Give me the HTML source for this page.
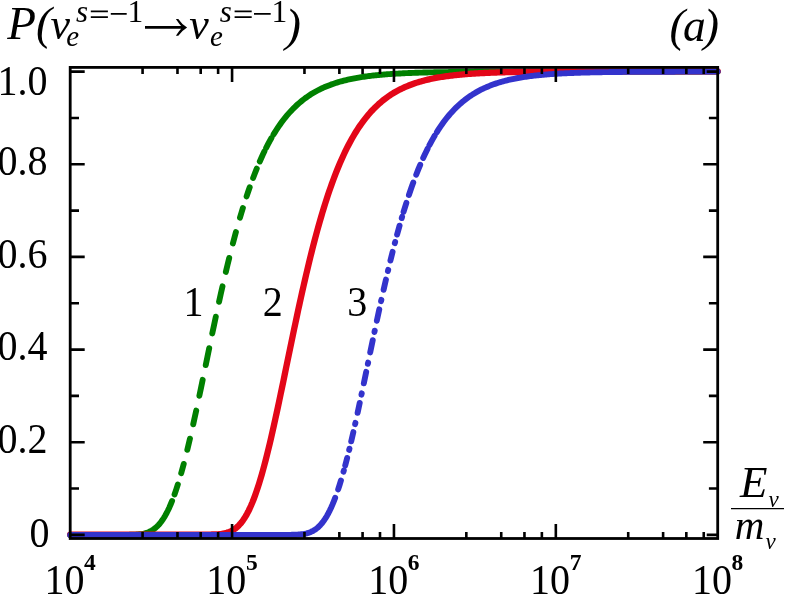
<!DOCTYPE html>
<html><head><meta charset="utf-8"><title>chart</title>
<style>
html,body{margin:0;padding:0;background:#fff;}
body{width:789px;height:594px;overflow:hidden;font-family:"Liberation Serif",serif;}
svg{display:block;position:absolute;left:0;top:0;will-change:transform;}
.txt{filter:grayscale(1);}
text{font-family:"Liberation Serif",serif;fill:#000;}
</style></head><body>
<svg width="789" height="594" viewBox="0 0 789 594">
<rect width="789" height="594" fill="#fff"/>
<path d="M70.20 534.90 L71.56 534.90 L72.92 534.90 L74.28 534.90 L75.63 534.90 L76.99 534.90 L78.35 534.90 L79.71 534.90 L81.07 534.90 L82.43 534.90 L83.78 534.90 L85.14 534.90 L86.50 534.90 L87.86 534.90 L89.22 534.90 L90.58 534.90 L91.93 534.90 L93.29 534.90 L94.65 534.90 L96.01 534.90 L97.37 534.90 L98.73 534.90 L100.09 534.90 L101.44 534.90 L102.80 534.90 L104.16 534.90 L105.52 534.90 L106.88 534.90 L108.24 534.90 L109.59 534.90 L110.95 534.90 L112.31 534.90 L113.67 534.90 L115.03 534.90 L116.39 534.90 L117.75 534.90 L119.10 534.90 L120.46 534.89 L121.82 534.89 L123.18 534.89 L124.54 534.88 L125.90 534.87 L127.25 534.86 L128.61 534.84 L129.97 534.82 L131.33 534.79 L132.69 534.75 L134.05 534.69 L135.40 534.62 L136.76 534.53 L138.12 534.42 L139.48 534.27 L140.84 534.10 L142.20 533.88 L143.56 533.61 L144.91 533.29 L146.27 532.90 L147.63 532.44 L148.99 531.90 L150.35 531.27 L151.71 530.54 L153.06 529.70 L154.42 528.73 L155.78 527.64 L157.14 526.40 L158.50 525.01 L159.86 523.45 L161.22 521.73 L162.57 519.83 L163.93 517.74 L165.29 515.45 L166.65 512.97 L168.01 510.28 L169.37 507.38 L170.72 504.27 L172.08 500.95 M174.52 494.45 L176.19 489.61 L177.86 484.45 M181.19 473.25 L183.73 463.95 M187.30 449.85 L189.96 438.65 M193.23 424.25 L194.72 417.45 L196.22 410.55 M199.36 395.75 L201.02 387.83 L202.67 379.85 M205.73 365.05 L207.48 356.59 L209.22 348.15 M212.28 333.45 L214.05 325.06 L215.81 316.75 M219.06 301.75 L220.78 293.98 L222.50 286.35 M225.83 271.95 L227.52 264.87 L229.21 257.95 M232.88 243.45 L234.40 237.68 L235.92 232.05 M239.98 217.65 L241.44 212.74 L242.90 207.95 M246.60 196.35 L248.15 191.73 L249.71 187.25 M253.10 177.95 L254.92 173.21 L256.75 168.65 M259.79 161.45 L261.33 157.96 L262.88 154.60 L264.43 151.35 M266.16 147.85 L267.92 144.45 L269.67 141.18 L271.43 138.05 M273.48 134.55 L274.83 132.34 L276.18 130.20 L277.53 128.14 L278.88 126.14 L280.23 124.20 L281.58 122.33 L282.93 120.53 L284.28 118.78 L285.63 117.09 L286.98 115.46 L288.33 113.89 L289.68 112.37 L291.03 110.90 L292.38 109.48 L293.73 108.11 L295.08 106.79 L296.43 105.51 L297.78 104.28 L299.13 103.09 L300.48 101.94 L301.83 100.84 L303.18 99.77 L304.53 98.74 L305.88 97.75 L307.23 96.79 L308.58 95.86 L309.93 94.97 L311.28 94.11 L312.63 93.29 L313.98 92.49 L315.33 91.72 L316.68 90.98 L318.04 90.26 L319.39 89.57 L320.74 88.91 L322.09 88.27 L323.44 87.65 L324.79 87.05 L326.14 86.48 L327.49 85.93 L328.84 85.40 L330.19 84.89 L331.54 84.39 L332.89 83.92 L334.24 83.46 L335.59 83.02 L336.94 82.59 L338.29 82.18 L339.64 81.79 L340.99 81.41 L342.34 81.04 L343.69 80.69 L345.04 80.35 L346.39 80.02 L347.74 79.71 L349.09 79.41 L350.44 79.11 L351.79 78.83 L353.14 78.56 L354.49 78.30 L355.84 78.05 L357.19 77.81 L358.54 77.58 L359.89 77.35 L361.24 77.14 L362.59 76.93 L363.94 76.73 L365.29 76.54 L366.64 76.35 L367.99 76.18 L369.34 76.00 L370.69 75.84 L372.04 75.68 L373.39 75.53 L374.74 75.38 L376.09 75.24 L377.44 75.10 L378.79 74.97 L380.15 74.84 L381.50 74.72 L382.85 74.60 L384.20 74.49 L385.55 74.38 L386.90 74.28 L388.25 74.18 L389.60 74.08 L390.95 73.99 L392.30 73.90 L393.65 73.81 L395.00 73.73 L396.35 73.65 L397.70 73.57 L399.05 73.50 L400.40 73.43 L401.75 73.36 L403.10 73.29 L404.45 73.23 L405.80 73.17 L407.15 73.11 L408.50 73.05 L409.85 73.00 L411.20 72.94 L412.55 72.89 L413.90 72.84 L415.25 72.80 L416.60 72.75 L417.95 72.71 L419.30 72.67 L420.65 72.63 L422.00 72.59 L423.35 72.55 L424.70 72.52 L426.05 72.48 L427.40 72.45 L428.75 72.42 L430.10 72.38 L431.45 72.36 L432.80 72.33 L434.15 72.30 L435.50 72.27 L436.85 72.25 L438.20 72.22 L439.55 72.20 L440.91 72.18 L442.26 72.16 L443.61 72.13 L444.96 72.11 L446.31 72.10 L447.66 72.08 L449.01 72.06 L450.36 72.04 L451.71 72.02 L453.06 72.01 L454.41 71.99 L455.76 71.98 L457.11 71.96 L458.46 71.95 L459.81 71.94 L461.16 71.92 L462.51 71.91 L463.86 71.90 L465.21 71.89 L466.56 71.88 L467.91 71.87 L469.26 71.86 L470.61 71.85 L471.96 71.84 L473.31 71.83 L474.66 71.82 L476.01 71.81 L477.36 71.80 L478.71 71.80 L480.06 71.79 L481.41 71.78 L482.76 71.78 L484.11 71.77 L485.46 71.76 L486.81 71.76 L488.16 71.75 L489.51 71.74 L490.86 71.74 L492.21 71.73 L493.56 71.73 L494.91 71.72 L496.26 71.72 L497.61 71.72 L498.96 71.71 L500.31 71.71 L501.66 71.70 L503.02 71.70 L504.37 71.69 L505.72 71.69 L507.07 71.69 L508.42 71.68 L509.77 71.68 L511.12 71.68 L512.47 71.68 L513.82 71.67 L515.17 71.67 L516.52 71.67 L517.87 71.66 L519.22 71.66 L520.57 71.66 L521.92 71.66 L523.27 71.66 L524.62 71.65 L525.97 71.65 L527.32 71.65 L528.67 71.65 L530.02 71.65 L531.37 71.64 L532.72 71.64 L534.07 71.64 L535.42 71.64 L536.77 71.64 L538.12 71.64 L539.47 71.63 L540.82 71.63 L542.17 71.63 L543.52 71.63 L544.87 71.63 L546.22 71.63 L547.57 71.63 L548.92 71.63 L550.27 71.63 L551.62 71.62 L552.97 71.62 L554.32 71.62 L555.67 71.62 L557.02 71.62 L558.37 71.62 L559.72 71.62 L561.07 71.62 L562.42 71.62 L563.78 71.62 L565.13 71.62 L566.48 71.62 L567.83 71.62 L569.18 71.62 L570.53 71.61 L571.88 71.61 L573.23 71.61 L574.58 71.61 L575.93 71.61 L577.28 71.61 L578.63 71.61 L579.98 71.61 L581.33 71.61 L582.68 71.61 L584.03 71.61 L585.38 71.61 L586.73 71.61 L588.08 71.61 L589.43 71.61 L590.78 71.61 L592.13 71.61 L593.48 71.61 L594.83 71.61 L596.18 71.61 L597.53 71.61 L598.88 71.61 L600.23 71.61 L601.58 71.61 L602.93 71.61 L604.28 71.61 L605.63 71.61 L606.98 71.61 L608.33 71.60 L609.68 71.60 L611.03 71.60 L612.38 71.60 L613.73 71.60 L615.08 71.60 L616.43 71.60 L617.78 71.60 L619.13 71.60 L620.48 71.60 L621.83 71.60 L623.18 71.60 L624.53 71.60 L625.89 71.60 L627.24 71.60 L628.59 71.60 L629.94 71.60 L631.29 71.60 L632.64 71.60 L633.99 71.60 L635.34 71.60 L636.69 71.60 L638.04 71.60 L639.39 71.60 L640.74 71.60 L642.09 71.60 L643.44 71.60 L644.79 71.60 L646.14 71.60 L647.49 71.60 L648.84 71.60 L650.19 71.60 L651.54 71.60 L652.89 71.60 L654.24 71.60 L655.59 71.60 L656.94 71.60 L658.29 71.60 L659.64 71.60 L660.99 71.60 L662.34 71.60 L663.69 71.60 L665.04 71.60 L666.39 71.60 L667.74 71.60 L669.09 71.60 L670.44 71.60 L671.79 71.60 L673.14 71.60 L674.49 71.60 L675.84 71.60 L677.19 71.60 L678.54 71.60 L679.89 71.60 L681.24 71.60 L682.59 71.60 L683.94 71.60 L685.29 71.60 L686.64 71.60 L688.00 71.60 L689.35 71.60 L690.70 71.60 L692.05 71.60 L693.40 71.60 L694.75 71.60 L696.10 71.60 L697.45 71.60 L698.80 71.60 L700.15 71.60 L701.50 71.60 L702.85 71.60 L704.20 71.60 L705.55 71.60 L706.90 71.60 L708.25 71.60 L709.60 71.60 L710.95 71.60 L712.30 71.60 L713.65 71.60 L715.00 71.60 L716.35 71.60 L717.70 71.60" fill="none" stroke="#008000" stroke-width="5.90" stroke-linecap="round" stroke-linejoin="round"/>
<path d="M70.20 534.90 L71.55 534.90 L72.90 534.90 L74.25 534.90 L75.60 534.90 L76.94 534.90 L78.29 534.90 L79.64 534.90 L80.99 534.90 L82.34 534.90 L83.69 534.90 L85.04 534.90 L86.39 534.90 L87.74 534.90 L89.09 534.90 L90.43 534.90 L91.78 534.90 L93.13 534.90 L94.48 534.90 L95.83 534.90 L97.18 534.90 L98.53 534.90 L99.88 534.90 L101.23 534.90 L102.58 534.90 L103.92 534.90 L105.27 534.90 L106.62 534.90 L107.97 534.90 L109.32 534.90 L110.67 534.90 L112.02 534.90 L113.37 534.90 L114.72 534.90 L116.06 534.90 L117.41 534.90 L118.76 534.90 L120.11 534.90 L121.46 534.90 L122.81 534.90 L124.16 534.90 L125.51 534.90 L126.86 534.90 L128.21 534.90 L129.55 534.90 L130.90 534.90 L132.25 534.90 L133.60 534.90 L134.95 534.90 L136.30 534.90 L137.65 534.90 L139.00 534.90 L140.35 534.90 L141.69 534.90 L143.04 534.90 L144.39 534.90 L145.74 534.90 L147.09 534.90 L148.44 534.90 L149.79 534.90 L151.14 534.90 L152.49 534.90 L153.84 534.90 L155.18 534.90 L156.53 534.90 L157.88 534.90 L159.23 534.90 L160.58 534.90 L161.93 534.90 L163.28 534.90 L164.63 534.90 L165.98 534.90 L167.32 534.90 L168.67 534.90 L170.02 534.90 L171.37 534.90 L172.72 534.90 L174.07 534.90 L175.42 534.90 L176.77 534.90 L178.12 534.90 L179.47 534.90 L180.81 534.90 L182.16 534.90 L183.51 534.90 L184.86 534.90 L186.21 534.90 L187.56 534.90 L188.91 534.90 L190.26 534.90 L191.61 534.90 L192.96 534.90 L194.30 534.90 L195.65 534.90 L197.00 534.90 L198.35 534.90 L199.70 534.90 L201.05 534.90 L202.40 534.89 L203.75 534.89 L205.10 534.88 L206.44 534.88 L207.79 534.86 L209.14 534.85 L210.49 534.83 L211.84 534.80 L213.19 534.76 L214.54 534.72 L215.89 534.65 L217.24 534.57 L218.59 534.47 L219.93 534.34 L221.28 534.18 L222.63 533.98 L223.98 533.73 L225.33 533.44 L226.68 533.08 L228.03 532.66 L229.38 532.17 L230.73 531.58 L232.07 530.91 L233.42 530.12 L234.77 529.22 L236.12 528.20 L237.47 527.04 L238.82 525.74 L240.17 524.28 L241.52 522.66 L242.87 520.86 L244.22 518.89 L245.56 516.73 L246.91 514.37 L248.26 511.81 L249.61 509.05 L250.96 506.09 L252.31 502.91 L253.66 499.52 L255.01 495.93 L256.36 492.12 L257.71 488.11 L259.05 483.89 L260.40 479.47 L261.75 474.86 L263.10 470.06 L264.45 465.07 L265.80 459.92 L267.15 454.59 L268.50 449.12 L269.85 443.49 L271.19 437.73 L272.54 431.85 L273.89 425.85 L275.24 419.74 L276.59 413.55 L277.94 407.27 L279.29 400.92 L280.64 394.52 L281.99 388.06 L283.34 381.57 L284.68 375.05 L286.03 368.52 L287.38 361.98 L288.73 355.44 L290.08 348.92 L291.43 342.41 L292.78 335.94 L294.13 329.51 L295.48 323.12 L296.83 316.79 L298.17 310.51 L299.52 304.30 L300.87 298.16 L302.22 292.10 L303.57 286.12 L304.92 280.23 L306.27 274.43 L307.62 268.72 L308.97 263.11 L310.31 257.59 L311.66 252.18 L313.01 246.88 L314.36 241.68 L315.71 236.58 L317.06 231.60 L318.41 226.72 L319.76 221.95 L321.11 217.30 L322.46 212.75 L323.80 208.31 L325.15 203.98 L326.50 199.77 L327.85 195.65 L329.20 191.65 L330.55 187.75 L331.90 183.96 L333.25 180.27 L334.60 176.68 L335.94 173.20 L337.29 169.81 L338.64 166.52 L339.99 163.33 L341.34 160.23 L342.69 157.22 L344.04 154.30 L345.39 151.48 L346.74 148.73 L348.09 146.08 L349.43 143.50 L350.78 141.01 L352.13 138.60 L353.48 136.26 L354.83 134.00 L356.18 131.81 L357.53 129.69 L358.88 127.64 L360.23 125.66 L361.57 123.74 L362.92 121.89 L364.27 120.10 L365.62 118.37 L366.97 116.70 L368.32 115.08 L369.67 113.52 L371.02 112.01 L372.37 110.56 L373.72 109.15 L375.06 107.80 L376.41 106.49 L377.76 105.22 L379.11 104.00 L380.46 102.82 L381.81 101.69 L383.16 100.59 L384.51 99.53 L385.86 98.51 L387.21 97.53 L388.55 96.58 L389.90 95.66 L391.25 94.78 L392.60 93.93 L393.95 93.11 L395.30 92.32 L396.65 91.55 L398.00 90.82 L399.35 90.11 L400.69 89.43 L402.04 88.77 L403.39 88.13 L404.74 87.52 L406.09 86.93 L407.44 86.36 L408.79 85.82 L410.14 85.29 L411.49 84.78 L412.84 84.29 L414.18 83.82 L415.53 83.37 L416.88 82.93 L418.23 82.51 L419.58 82.10 L420.93 81.71 L422.28 81.33 L423.63 80.97 L424.98 80.62 L426.33 80.28 L427.67 79.96 L429.02 79.65 L430.37 79.35 L431.72 79.06 L433.07 78.78 L434.42 78.51 L435.77 78.25 L437.12 78.00 L438.47 77.77 L439.81 77.53 L441.16 77.31 L442.51 77.10 L443.86 76.89 L445.21 76.69 L446.56 76.50 L447.91 76.32 L449.26 76.14 L450.61 75.97 L451.96 75.81 L453.30 75.65 L454.65 75.50 L456.00 75.35 L457.35 75.21 L458.70 75.08 L460.05 74.95 L461.40 74.82 L462.75 74.70 L464.10 74.58 L465.44 74.47 L466.79 74.36 L468.14 74.26 L469.49 74.16 L470.84 74.06 L472.19 73.97 L473.54 73.88 L474.89 73.80 L476.24 73.71 L477.59 73.64 L478.93 73.56 L480.28 73.48 L481.63 73.41 L482.98 73.35 L484.33 73.28 L485.68 73.22 L487.03 73.16 L488.38 73.10 L489.73 73.04 L491.07 72.99 L492.42 72.94 L493.77 72.89 L495.12 72.84 L496.47 72.79 L497.82 72.75 L499.17 72.70 L500.52 72.66 L501.87 72.62 L503.22 72.58 L504.56 72.55 L505.91 72.51 L507.26 72.48 L508.61 72.44 L509.96 72.41 L511.31 72.38 L512.66 72.35 L514.01 72.32 L515.36 72.30 L516.71 72.27 L518.05 72.24 L519.40 72.22 L520.75 72.20 L522.10 72.17 L523.45 72.15 L524.80 72.13 L526.15 72.11 L527.50 72.09 L528.85 72.07 L530.19 72.06 L531.54 72.04 L532.89 72.02 L534.24 72.01 L535.59 71.99 L536.94 71.98 L538.29 71.96 L539.64 71.95 L540.99 71.94 L542.34 71.92 L543.68 71.91 L545.03 71.90 L546.38 71.89 L547.73 71.88 L549.08 71.87 L550.43 71.86 L551.78 71.85 L553.13 71.84 L554.48 71.83 L555.83 71.82 L557.17 71.81 L558.52 71.80 L559.87 71.80 L561.22 71.79 L562.57 71.78 L563.92 71.77 L565.27 71.77 L566.62 71.76 L567.97 71.76 L569.31 71.75 L570.66 71.74 L572.01 71.74 L573.36 71.73 L574.71 71.73 L576.06 71.72 L577.41 71.72 L578.76 71.71 L580.11 71.71 L581.46 71.71 L582.80 71.70 L584.15 71.70 L585.50 71.69 L586.85 71.69 L588.20 71.69 L589.55 71.68 L590.90 71.68 L592.25 71.68 L593.60 71.68 L594.94 71.67 L596.29 71.67 L597.64 71.67 L598.99 71.66 L600.34 71.66 L601.69 71.66 L603.04 71.66 L604.39 71.66 L605.74 71.65 L607.09 71.65 L608.43 71.65 L609.78 71.65 L611.13 71.65 L612.48 71.64 L613.83 71.64 L615.18 71.64 L616.53 71.64 L617.88 71.64 L619.23 71.64 L620.58 71.63 L621.92 71.63 L623.27 71.63 L624.62 71.63 L625.97 71.63 L627.32 71.63 L628.67 71.63 L630.02 71.63 L631.37 71.63 L632.72 71.62 L634.06 71.62 L635.41 71.62 L636.76 71.62 L638.11 71.62 L639.46 71.62 L640.81 71.62 L642.16 71.62 L643.51 71.62 L644.86 71.62 L646.21 71.62 L647.55 71.62 L648.90 71.62 L650.25 71.62 L651.60 71.61 L652.95 71.61 L654.30 71.61 L655.65 71.61 L657.00 71.61 L658.35 71.61 L659.69 71.61 L661.04 71.61 L662.39 71.61 L663.74 71.61 L665.09 71.61 L666.44 71.61 L667.79 71.61 L669.14 71.61 L670.49 71.61 L671.84 71.61 L673.18 71.61 L674.53 71.61 L675.88 71.61 L677.23 71.61 L678.58 71.61 L679.93 71.61 L681.28 71.61 L682.63 71.61 L683.98 71.61 L685.33 71.61 L686.67 71.61 L688.02 71.61 L689.37 71.60 L690.72 71.60 L692.07 71.60 L693.42 71.60 L694.77 71.60 L696.12 71.60 L697.47 71.60 L698.81 71.60 L700.16 71.60 L701.51 71.60 L702.86 71.60 L704.21 71.60 L705.56 71.60 L706.91 71.60 L708.26 71.60 L709.61 71.60 L710.96 71.60 L712.30 71.60 L713.65 71.60 L715.00 71.60 L716.35 71.60 L717.70 71.60" fill="none" stroke="#e30618" stroke-width="6.30" stroke-linecap="round" stroke-linejoin="round" transform="translate(0 -0.3)"/>
<path d="M70.20 534.90 L71.55 534.90 L72.90 534.90 L74.26 534.90 L75.61 534.90 L76.96 534.90 L78.31 534.90 L79.66 534.90 L81.01 534.90 L82.37 534.90 L83.72 534.90 L85.07 534.90 L86.42 534.90 L87.77 534.90 L89.13 534.90 L90.48 534.90 L91.83 534.90 L93.18 534.90 L94.53 534.90 L95.88 534.90 L97.24 534.90 L98.59 534.90 L99.94 534.90 L101.29 534.90 L102.64 534.90 L104.00 534.90 L105.35 534.90 L106.70 534.90 L108.05 534.90 L109.40 534.90 L110.75 534.90 L112.11 534.90 L113.46 534.90 L114.81 534.90 L116.16 534.90 L117.51 534.90 L118.86 534.90 L120.22 534.90 L121.57 534.90 L122.92 534.90 L124.27 534.90 L125.62 534.90 L126.98 534.90 L128.33 534.90 L129.68 534.90 L131.03 534.90 L132.38 534.90 L133.73 534.90 L135.09 534.90 L136.44 534.90 L137.79 534.90 L139.14 534.90 L140.49 534.90 L141.85 534.90 L143.20 534.90 L144.55 534.90 L145.90 534.90 L147.25 534.90 L148.60 534.90 L149.96 534.90 L151.31 534.90 L152.66 534.90 L154.01 534.90 L155.36 534.90 L156.72 534.90 L158.07 534.90 L159.42 534.90 L160.77 534.90 L162.12 534.90 L163.47 534.90 L164.83 534.90 L166.18 534.90 L167.53 534.90 L168.88 534.90 L170.23 534.90 L171.59 534.90 L172.94 534.90 L174.29 534.90 L175.64 534.90 L176.99 534.90 L178.34 534.90 L179.70 534.90 L181.05 534.90 L182.40 534.90 L183.75 534.90 L185.10 534.90 L186.45 534.90 L187.81 534.90 L189.16 534.90 L190.51 534.90 L191.86 534.90 L193.21 534.90 L194.57 534.90 L195.92 534.90 L197.27 534.90 L198.62 534.90 L199.97 534.90 L201.32 534.90 L202.68 534.90 L204.03 534.90 L205.38 534.90 L206.73 534.90 L208.08 534.90 L209.44 534.90 L210.79 534.90 L212.14 534.90 L213.49 534.90 L214.84 534.90 L216.19 534.90 L217.55 534.90 L218.90 534.90 L220.25 534.90 L221.60 534.90 L222.95 534.90 L224.31 534.90 L225.66 534.90 L227.01 534.90 L228.36 534.90 L229.71 534.90 L231.06 534.90 L232.42 534.90 L233.77 534.90 L235.12 534.90 L236.47 534.90 L237.82 534.90 L239.18 534.90 L240.53 534.90 L241.88 534.90 L243.23 534.90 L244.58 534.90 L245.93 534.90 L247.29 534.90 L248.64 534.90 L249.99 534.90 L251.34 534.90 L252.69 534.90 L254.04 534.90 L255.40 534.90 L256.75 534.90 L258.10 534.90 L259.45 534.90 L260.80 534.90 L262.16 534.90 L263.51 534.90 L264.86 534.90 L266.21 534.90 L267.56 534.90 L268.91 534.90 L270.27 534.90 L271.62 534.90 L272.97 534.90 L274.32 534.90 L275.67 534.90 L277.03 534.90 L278.38 534.90 L279.73 534.90 L281.08 534.90 L282.43 534.89 L283.78 534.89 L285.14 534.89 L286.49 534.88 L287.84 534.87 L289.19 534.86 L290.54 534.84 L291.90 534.82 L293.25 534.79 L294.60 534.75 L295.95 534.69 L297.30 534.62 L298.65 534.53 L300.01 534.42 L301.36 534.27 L302.71 534.10 L304.06 533.88 L305.41 533.61 L306.77 533.29 L308.12 532.91 L309.47 532.46 L310.82 531.92 L312.17 531.30 L313.52 530.57 L314.88 529.74 L316.23 528.79 L317.58 527.70 L318.93 526.48 L320.28 525.10 L321.63 523.57 L322.99 521.87 L324.34 519.99 L325.69 517.92 L327.04 515.67 L328.39 513.21 L329.75 510.56 L331.10 507.70 L332.45 504.63 L333.80 501.34 L335.15 497.85 M338.15 489.35 L339.56 485.01 L340.97 480.45 M343.49 471.75 L343.85 470.45 M345.21 465.45 L347.16 457.95 M349.15 449.95 L349.47 448.65 M351.21 441.35 L353.35 432.05 M355.13 424.15 L355.41 422.85 M357.60 412.85 L359.72 402.95 M361.47 394.65 L361.74 393.35 M363.82 383.35 L366.20 371.85 M367.85 363.85 L368.12 362.55 M370.21 352.45 L372.76 340.15 M374.46 332.00 L374.73 330.70 M376.84 320.75 L379.28 309.35 M381.07 301.15 L381.36 299.85 M383.61 289.75 L385.93 279.55 M387.91 271.10 L388.22 269.80 M390.44 260.55 L392.60 251.85 M394.81 243.25 L395.15 241.95 M397.11 234.55 L399.57 225.65 M401.74 218.05 L402.12 216.75 M403.55 211.95 L404.96 207.34 L406.37 202.85 M408.91 195.05 L410.36 190.76 L411.81 186.59 L413.27 182.55 M416.20 174.75 L418.20 169.69 L420.20 164.85 M423.17 158.05 L424.66 154.81 L426.15 151.68 L427.64 148.65 M429.42 145.15 L431.20 141.81 L432.98 138.61 L434.76 135.55 M436.88 132.05 L438.23 129.92 L439.58 127.86 L440.93 125.87 L442.28 123.95 L443.63 122.09 L444.98 120.29 L446.33 118.55 L447.68 116.87 L449.03 115.25 L450.38 113.68 L451.73 112.17 L453.09 110.70 L454.44 109.29 L455.79 107.93 L457.14 106.61 L458.49 105.34 L459.84 104.12 L461.19 102.94 L462.54 101.79 L463.89 100.69 L465.24 99.63 L466.59 98.61 L467.94 97.62 L469.29 96.66 L470.64 95.74 L471.99 94.86 L473.34 94.00 L474.69 93.18 L476.04 92.38 L477.39 91.62 L478.74 90.88 L480.09 90.17 L481.44 89.48 L482.79 88.82 L484.14 88.18 L485.49 87.57 L486.84 86.98 L488.19 86.41 L489.54 85.86 L490.89 85.33 L492.24 84.82 L493.59 84.33 L494.94 83.86 L496.29 83.40 L497.64 82.96 L498.99 82.54 L500.34 82.13 L501.69 81.74 L503.04 81.36 L504.39 81.00 L505.74 80.65 L507.09 80.31 L508.44 79.98 L509.79 79.67 L511.14 79.37 L512.49 79.08 L513.84 78.80 L515.19 78.53 L516.54 78.27 L517.89 78.02 L519.24 77.78 L520.59 77.55 L521.94 77.33 L523.29 77.11 L524.64 76.90 L525.99 76.71 L527.34 76.51 L528.69 76.33 L530.04 76.15 L531.39 75.98 L532.74 75.82 L534.09 75.66 L535.44 75.51 L536.79 75.36 L538.14 75.22 L539.49 75.08 L540.84 74.95 L542.19 74.83 L543.54 74.71 L544.89 74.59 L546.24 74.48 L547.59 74.37 L548.94 74.26 L550.29 74.16 L551.64 74.07 L552.99 73.98 L554.34 73.89 L555.69 73.80 L557.04 73.72 L558.39 73.64 L559.74 73.56 L561.09 73.49 L562.44 73.42 L563.79 73.35 L565.14 73.28 L566.49 73.22 L567.84 73.16 L569.19 73.10 L570.54 73.04 L571.89 72.99 L573.24 72.94 L574.59 72.89 L575.94 72.84 L577.29 72.79 L578.64 72.75 L579.99 72.70 L581.34 72.66 L582.69 72.62 L584.04 72.58 L585.39 72.55 L586.74 72.51 L588.09 72.48 L589.44 72.44 L590.79 72.41 L592.14 72.38 L593.49 72.35 L594.84 72.32 L596.19 72.30 L597.54 72.27 L598.89 72.24 L600.24 72.22 L601.59 72.20 L602.94 72.17 L604.29 72.15 L605.64 72.13 L606.99 72.11 L608.34 72.09 L609.69 72.07 L611.04 72.06 L612.39 72.04 L613.74 72.02 L615.09 72.01 L616.44 71.99 L617.79 71.98 L619.14 71.96 L620.49 71.95 L621.84 71.94 L623.19 71.92 L624.54 71.91 L625.89 71.90 L627.24 71.89 L628.59 71.88 L629.95 71.87 L631.30 71.86 L632.65 71.85 L634.00 71.84 L635.35 71.83 L636.70 71.82 L638.05 71.81 L639.40 71.80 L640.75 71.80 L642.10 71.79 L643.45 71.78 L644.80 71.77 L646.15 71.77 L647.50 71.76 L648.85 71.76 L650.20 71.75 L651.55 71.74 L652.90 71.74 L654.25 71.73 L655.60 71.73 L656.95 71.72 L658.30 71.72 L659.65 71.71 L661.00 71.71 L662.35 71.71 L663.70 71.70 L665.05 71.70 L666.40 71.69 L667.75 71.69 L669.10 71.69 L670.45 71.68 L671.80 71.68 L673.15 71.68 L674.50 71.68 L675.85 71.67 L677.20 71.67 L678.55 71.67 L679.90 71.66 L681.25 71.66 L682.60 71.66 L683.95 71.66 L685.30 71.66 L686.65 71.65 L688.00 71.65 L689.35 71.65 L690.70 71.65 L692.05 71.65 L693.40 71.64 L694.75 71.64 L696.10 71.64 L697.45 71.64 L698.80 71.64 L700.15 71.64 L701.50 71.63 L702.85 71.63 L704.20 71.63 L705.55 71.63 L706.90 71.63 L708.25 71.63 L709.60 71.63 L710.95 71.63 L712.30 71.63 L713.65 71.62 L715.00 71.62 L716.35 71.62 L717.70 71.62" fill="none" stroke="#3333cc" stroke-width="5.90" stroke-linecap="round" stroke-linejoin="round"/>
<g stroke="#000" fill="none" stroke-linecap="butt">
<rect x="70.20" y="67.40" width="647.50" height="471.10" stroke-width="2.80"/>
<path d="M70.20 534.90H84.70 M717.70 534.90H706.70 M70.20 488.57H79.00 M717.70 488.57H708.90 M70.20 442.24H84.70 M717.70 442.24H703.20 M70.20 395.91H79.00 M717.70 395.91H708.90 M70.20 349.58H84.70 M717.70 349.58H703.20 M70.20 303.25H79.00 M717.70 303.25H708.90 M70.20 256.92H84.70 M717.70 256.92H703.20 M70.20 210.59H79.00 M717.70 210.59H708.90 M70.20 164.26H84.70 M717.70 164.26H703.20 M70.20 117.93H79.00 M717.70 117.93H708.90 M70.20 71.60H84.70 M717.70 71.60H706.70 M142.58 538.50V532.00 M142.58 67.40V73.90 M177.48 538.50V532.00 M177.48 67.40V73.90 M200.70 538.50V532.00 M200.70 67.40V73.90 M218.12 538.50V532.00 M218.12 67.40V73.90 M232.07 538.50V524.00 M232.07 67.40V81.90 M304.46 538.50V532.00 M304.46 67.40V73.90 M339.36 538.50V532.00 M339.36 67.40V73.90 M362.58 538.50V532.00 M362.58 67.40V73.90 M380.00 538.50V532.00 M380.00 67.40V73.90 M393.95 538.50V524.00 M393.95 67.40V81.90 M466.33 538.50V532.00 M466.33 67.40V73.90 M501.23 538.50V532.00 M501.23 67.40V73.90 M524.45 538.50V532.00 M524.45 67.40V73.90 M541.87 538.50V532.00 M541.87 67.40V73.90 M555.83 538.50V524.00 M555.83 67.40V81.90 M628.21 538.50V532.00 M628.21 67.40V73.90 M663.11 538.50V532.00 M663.11 67.40V73.90 M686.33 538.50V532.00 M686.33 67.40V73.90 M703.75 538.50V532.00 M703.75 67.40V73.90" stroke-width="2.60"/>
</g>
<g class="txt"><text x="0.00" y="0.00" font-size="40" transform="translate(47.60 94.50) scale(1 1.030)" text-anchor="end">1.0</text>
<text x="0.00" y="0.00" font-size="40" transform="translate(47.60 175.00) scale(1 1.030)" text-anchor="end">0.8</text>
<text x="0.00" y="0.00" font-size="40" transform="translate(47.60 267.60) scale(1 1.030)" text-anchor="end">0.6</text>
<text x="0.00" y="0.00" font-size="40" transform="translate(47.60 360.30) scale(1 1.030)" text-anchor="end">0.4</text>
<text x="0.00" y="0.00" font-size="40" transform="translate(47.60 452.90) scale(1 1.030)" text-anchor="end">0.2</text>
<text x="0.00" y="0.00" font-size="40" transform="translate(49.60 546.80) scale(1 1.030)" text-anchor="end">0</text>
<text x="0.00" y="0.00" font-size="40" transform="translate(44.40 593.50) scale(1 1.030)">10</text>
<text x="84.10" y="570.00" font-size="23.5" font-weight="bold">4</text>
<text x="0.00" y="0.00" font-size="40" transform="translate(206.27 593.50) scale(1 1.030)">10</text>
<text x="245.97" y="570.00" font-size="23.5" font-weight="bold">5</text>
<text x="0.00" y="0.00" font-size="40" transform="translate(368.15 593.50) scale(1 1.030)">10</text>
<text x="407.85" y="570.00" font-size="23.5" font-weight="bold">6</text>
<text x="0.00" y="0.00" font-size="40" transform="translate(530.03 593.50) scale(1 1.030)">10</text>
<text x="569.73" y="570.00" font-size="23.5" font-weight="bold">7</text>
<text x="0.00" y="0.00" font-size="40" transform="translate(691.90 593.50) scale(1 1.030)">10</text>
<text x="731.60" y="570.00" font-size="23.5" font-weight="bold">8</text>
<text x="0.00" y="0.00" font-size="40" transform="translate(183.45 316.00) scale(1 1.030)">1</text>
<text x="0.00" y="0.00" font-size="40" transform="translate(262.80 315.80) scale(1 1.030)">2</text>
<text x="0.00" y="0.00" font-size="40" transform="translate(347.35 316.20) scale(1 1.030)">3</text>
<text x="7.30" y="39.35" font-size="47" font-style="italic">P</text>
<text x="36.00" y="39.20" font-size="47" font-style="italic">(</text>
<text x="50.55" y="38.95" font-size="44" font-style="italic">ν</text>
<text x="66.30" y="46.27" font-size="29" font-style="italic">e</text>
<text x="76.10" y="21.65" font-size="31" font-style="italic">s</text>
<text x="127.60" y="21.70" font-size="31.5">1</text>
<text x="189.30" y="38.95" font-size="44" font-style="italic">ν</text>
<text x="209.90" y="46.27" font-size="29" font-style="italic">e</text>
<text x="219.75" y="21.65" font-size="31" font-style="italic">s</text>
<text x="271.50" y="21.70" font-size="31.5">1</text>
<text x="285.15" y="41.20" font-size="47" font-style="italic">)</text>
<path d="M90.80 11.4H107.90 M90.80 17.1H107.90 M234.60 11.4H251.70 M234.60 17.1H251.70 M110.80 13.9H126.70 M254.00 13.9H270.70" stroke="#000" stroke-width="1.8" fill="none"/>
<path d="M175.9 19.0 L178.3 19.0 Q181.5 24.0 187.1 27.4 Q181.5 30.8 178.3 35.8 L175.9 35.8 Q179.5 30.5 181.2 28.8 L145.0 28.8 L145.0 26.0 L181.2 26.0 Q179.5 24.3 175.9 19.0 Z" fill="#000"/>
<text x="669.50" y="40.50" font-size="46.5" font-style="italic">(</text>
<text x="682.90" y="40.60" font-size="45.5" font-style="italic">a</text>
<text x="703.50" y="40.50" font-size="46.5" font-style="italic">)</text>
<text x="740.10" y="497.10" font-size="45" font-style="italic">E</text>
<text x="768.40" y="506.50" font-size="23" font-style="italic">ν</text>
<path d="M731 508.6H784" stroke="#000" stroke-width="1.2" fill="none"/>
<text x="734.70" y="538.50" font-size="41" font-style="italic">m</text>
<text x="765.40" y="549.30" font-size="23" font-style="italic">ν</text></g>
</svg>
</body></html>
